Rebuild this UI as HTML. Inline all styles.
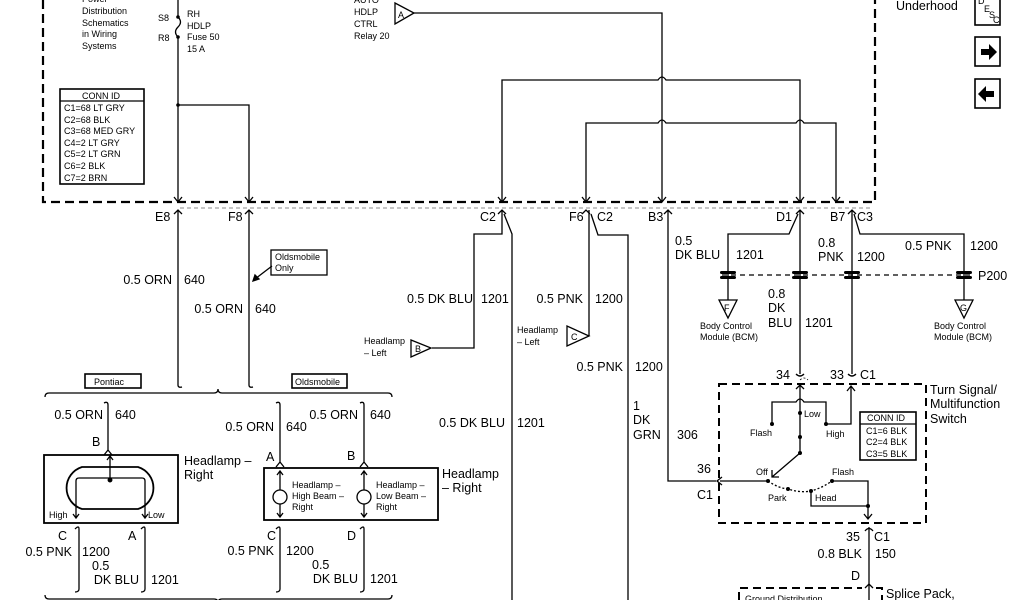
<!DOCTYPE html>
<html><head><meta charset="utf-8"><style>
html,body{margin:0;padding:0;background:#fff}
svg{display:block}
text{font-family:"Liberation Sans",Arial,sans-serif;fill:#000}
.m{font-size:12.5px}
.s{font-size:9px}
.r{text-anchor:end}
</style></head><body>
<svg width="1024" height="600" viewBox="0 0 1024 600" xmlns="http://www.w3.org/2000/svg">
<g fill="none" stroke="#000" stroke-width="1.3">
<!-- outer dashed box -->
<path d="M43 0 V202 H875 V0" stroke-width="2.2" stroke-dasharray="9,5"/>
<path d="M180 208 H870" stroke-width="0.8" stroke-dasharray="4,3" stroke="#666"/>
<!-- fuse line -->
<path d="M178 0 V17 M178 37 V202"/>
<path d="M178 17 q5 5 0 10 q-5 5 0 10"/>
<path d="M178 105 H249 V202"/>
<!-- arrowheads on box bottom -->
<path d="M174 197 l4 5 4-5 M245 197 l4 5 4-5 M498 197 l4 5 4-5 M582 197 l4 5 4-5 M658 197 l4 5 4-5 M796 197 l4 5 4-5 M832 197 l4 5 4-5"/>
<!-- relay A -->
<path d="M395 3 V24 L414 13 Z"/>
<path d="M414 13 H662 V202"/>
<path d="M502 202 V80 H658 q4 -6 8 0 H800 V202"/>
<path d="M586 202 V123 H658 q4 -6 8 0 H796 q4 -6 8 0 H836 V202"/>
<!-- CONN ID box -->
<rect x="60" y="89" width="84" height="95" stroke-width="1.6"/>
<path d="M60 101 H144"/>
<!-- E8/F8 wires -->
<path d="M174 214 l4 -4 4 4 M245 214 l4 -4 4 4"/>
<path d="M178 210 V385 q0 3 4 2 M249 210 V385 q0 3 4 2"/>
<rect x="271" y="250" width="56" height="25"/>
<path d="M272 266 L255 279"/>
<path d="M253 281 l2 -6 4 4 z" fill="#000"/>
<rect x="85" y="374" width="56" height="14" stroke-width="1.6"/>
<rect x="292" y="374" width="55" height="14" stroke-width="1.6"/>
<path d="M45 397 q0 -4 4 -4 H214 q4 0 4 -4 q0 4 4 4 H388 q4 0 4 4"/>
<path d="M45 595 q0 4 4 4 H214 q4 0 4 4 q0 -4 4 -4 H388 q4 0 4 -4"/>
<!-- Pontiac headlamp -->
<path d="M104 403 q4 -2 4 2 V450 M104 455 l4 -5 4 5"/>
<rect x="44" y="455" width="134" height="68" stroke-width="1.8"/>
<path d="M82 467 H138 A22 22 0 0 1 138 509 H82 A22 22 0 0 1 82 467 Z" stroke-width="1.8"/>
<path d="M76 492 V481 q0 -3 3 -3 H142 q3 0 3 3 V492" />
<path d="M110 480 V457 M107 460 l3 -4 3 4"/>
<circle cx="110" cy="480" r="1.8" fill="#000"/>
<path d="M76 492 V518 M73 514 l3 4 3 -4 M145 492 V518 M142 514 l3 4 3 -4"/>
<path d="M75 529 q4 -4 4 0 V589 q0 3 -4 3 M141 529 q4 -4 4 0 V589 q0 3 -4 3"/>
<!-- Olds headlamp -->
<path d="M276 403 q4 -2 4 2 V462 M276 467 l4 -5 4 5 M360 403 q4 -2 4 2 V462 M360 467 l4 -5 4 5"/>
<rect x="264" y="468" width="174" height="52" stroke-width="1.8"/>
<path d="M280 471 V490 M277 475 l3 -4 3 4 M280 504 V517 M277 513 l3 4 3 -4"/>
<path d="M364 471 V490 M361 475 l3 -4 3 4 M364 504 V517 M361 513 l3 4 3 -4"/>
<circle cx="280" cy="497" r="7"/><circle cx="364" cy="497" r="7"/>
<path d="M276 529 q4 -4 4 0 V589 q0 3 -4 3 M360 529 q4 -4 4 0 V589 q0 3 -4 3"/>
<!-- middle C2 -->
<path d="M498 214 l4 -4 4 4 M582 214 l4 -4 4 4"/>
<path d="M502 210 V234 H474 V348 H432"/>
<path d="M411 340 V357 L431 348 Z"/>
<path d="M504 214 L512 234 V600"/>
<path d="M589 210 V336"/>
<path d="M567 326 V346 L589 336 Z"/>
<path d="M591 214 L598 235 H628 V600"/>
<!-- B3 -->
<path d="M664 214 l4 -4 4 4 M668 210 V481 H716 M722 477 l-5 4 5 4"/>
<!-- D1 -->
<path d="M796 214 l4 -4 4 4 M800 210 V374"/>
<path d="M798 214 L789 234 H728 V300"/>
<path d="M719 300 H737 L728 318 Z"/>
<!-- B7 C3 -->
<path d="M848 214 l4 -4 4 4 M852 210 V374"/>
<path d="M854 214 L860 234 H964 V300"/>
<path d="M955 300 H973 L964 318 Z"/>
<!-- P200 -->
<path d="M722 275 H970" stroke-dasharray="5,4"/>
</g>
<g fill="#000">
<rect x="720" y="271" width="16" height="3" rx="1.5"/><rect x="720" y="276" width="16" height="3" rx="1.5"/>
<rect x="792" y="271" width="16" height="3" rx="1.5"/><rect x="792" y="276" width="16" height="3" rx="1.5"/>
<rect x="844" y="271" width="16" height="3" rx="1.5"/><rect x="844" y="276" width="16" height="3" rx="1.5"/>
<rect x="956" y="271" width="16" height="3" rx="1.5"/><rect x="956" y="276" width="16" height="3" rx="1.5"/>
<circle cx="178" cy="17" r="1.8"/><circle cx="178" cy="37" r="1.8"/><circle cx="178" cy="105" r="1.8"/>
</g>
<!-- switch -->
<g fill="none" stroke="#000" stroke-width="1.3">
<path d="M796 374 q4 4 8 0 M848 374 q4 4 8 0"/>
<path d="M800 380 q4 -4 8 0" stroke-dasharray="2,2" stroke-width="0.8"/>
<rect x="719" y="384" width="207" height="139" stroke-width="2" stroke-dasharray="8,5"/>
<path d="M800 384 V453 M796 389 l4 -4 4 4"/>
<path d="M772 424 V402 H796 q4 -6 8 0 H826 V424 H851 V387 M847 391 l4 -5 4 5"/>
<path d="M800 453 L772 477 M772 470 v7 h7"/>
<path d="M768 481 H720"/>
<path d="M768 481 Q778 488 788 489 Q800 493 811 491 Q822 488 832 481" stroke-dasharray="2,2"/>
<path d="M832 481 H868 V518 M811 491 V506 H868 M864 514 l4 5 4 -5"/>
<path d="M865 531 q4 -5 8 0 M869 527 V600"/>
<path d="M865 588 l4 -4 4 4"/>
<path d="M739 600 V588 H862 M876 588 h6 V600" stroke-width="2" stroke-dasharray="8,5"/>
<rect x="860" y="412" width="56" height="48" stroke-width="1.6"/>
<path d="M860 424 H916"/>
</g>
<g fill="#000">
<circle cx="772" cy="424" r="2"/><circle cx="826" cy="424" r="2"/><circle cx="800" cy="413" r="2"/><circle cx="800" cy="437" r="2"/><circle cx="800" cy="453" r="2"/>
<circle cx="768" cy="481" r="2"/><circle cx="788" cy="489" r="2"/><circle cx="811" cy="491" r="2"/><circle cx="832" cy="481" r="2"/><circle cx="868" cy="506" r="2"/>
</g>
<!-- icons -->
<g fill="none" stroke="#000" stroke-width="1.6">
<rect x="975" y="-4" width="25" height="29"/>
<rect x="975" y="37" width="25" height="29"/>
<rect x="975" y="79" width="25" height="29"/>
</g>
<path d="M981 49 h8 v-5 l8 8 -8 8 v-5 h-8 z" fill="#000"/>
<path d="M994 91 h-8 v-5 l-8 8 8 8 v-5 h8 z" fill="#000"/>
<text x="978" y="4" class="s">D</text><text x="984" y="12" class="s">E</text><text x="989" y="18" class="s">S</text><text x="993" y="23" class="s">C</text>
<!-- texts -->
<g class="s">
<text x="82" y="2">Power</text><text x="82" y="14">Distribution</text><text x="82" y="26">Schematics</text><text x="82" y="37">in Wiring</text><text x="82" y="49">Systems</text>
<text x="158" y="21">S8</text><text x="158" y="41">R8</text>
<text x="187" y="17">RH</text><text x="187" y="29">HDLP</text><text x="187" y="40">Fuse 50</text><text x="187" y="52">15 A</text>
<text x="354" y="3">AUTO</text><text x="354" y="15">HDLP</text><text x="354" y="27">CTRL</text><text x="354" y="39">Relay 20</text>
<text x="398" y="18">A</text>
<text x="82" y="99">CONN ID</text>
<text x="64" y="111">C1=68 LT GRY</text><text x="64" y="123">C2=68 BLK</text><text x="64" y="134">C3=68 MED GRY</text><text x="64" y="146">C4=2 LT GRY</text><text x="64" y="157">C5=2 LT GRN</text><text x="64" y="169">C6=2 BLK</text><text x="64" y="181">C7=2 BRN</text>
<text x="275" y="260">Oldsmobile</text><text x="275" y="271">Only</text>
<text x="94" y="385">Pontiac</text><text x="295" y="385">Oldsmobile</text>
<text x="49" y="518">High</text><text x="148" y="518">Low</text>
<text x="292" y="488">Headlamp –</text><text x="292" y="499">High Beam –</text><text x="292" y="510">Right</text>
<text x="376" y="488">Headlamp –</text><text x="376" y="499">Low Beam –</text><text x="376" y="510">Right</text>
<text x="364" y="344">Headlamp</text><text x="364" y="356">– Left</text><text x="415" y="352">B</text>
<text x="517" y="333">Headlamp</text><text x="517" y="345">– Left</text><text x="571" y="340">C</text>
<text x="700" y="329">Body Control</text><text x="700" y="340">Module (BCM)</text><text x="724" y="311">F</text>
<text x="934" y="329">Body Control</text><text x="934" y="340">Module (BCM)</text><text x="960" y="311">G</text>
<text x="750" y="436">Flash</text><text x="804" y="417">Low</text><text x="826" y="437">High</text>
<text x="756" y="475">Off</text><text x="832" y="475">Flash</text><text x="768" y="501">Park</text><text x="815" y="501">Head</text>
<text x="867" y="421">CONN ID</text><text x="866" y="434">C1=6 BLK</text><text x="866" y="445">C2=4 BLK</text><text x="866" y="457">C3=5 BLK</text>
<text x="745" y="602">Ground Distribution</text>
</g>
<g class="m">
<text x="896" y="10">Underhood</text>
<text x="155" y="221">E8</text><text x="228" y="221">F8</text>
<text x="480" y="221">C2</text><text x="569" y="221">F6</text><text x="597" y="221">C2</text><text x="648" y="221">B3</text>
<text x="776" y="221">D1</text><text x="830" y="221">B7</text><text x="857" y="221">C3</text>
<text x="172" y="284" class="r">0.5 ORN</text><text x="184" y="284">640</text>
<text x="243" y="313" class="r">0.5 ORN</text><text x="255" y="313">640</text>
<text x="103" y="419" class="r">0.5 ORN</text><text x="115" y="419">640</text>
<text x="92" y="446">B</text>
<text x="184" y="465">Headlamp –</text><text x="184" y="479">Right</text>
<text x="274" y="431" class="r">0.5 ORN</text><text x="286" y="431">640</text>
<text x="358" y="419" class="r">0.5 ORN</text><text x="370" y="419">640</text>
<text x="266" y="461">A</text><text x="347" y="460">B</text>
<text x="442" y="478">Headlamp</text><text x="442" y="492">– Right</text>
<text x="58" y="540">C</text><text x="128" y="540">A</text>
<text x="72" y="556" class="r">0.5 PNK</text><text x="82" y="556">1200</text>
<text x="92" y="570">0.5</text><text x="139" y="584" class="r">DK BLU</text><text x="151" y="584">1201</text>
<text x="267" y="540">C</text><text x="347" y="540">D</text>
<text x="274" y="555" class="r">0.5 PNK</text><text x="286" y="555">1200</text>
<text x="312" y="569">0.5</text><text x="358" y="583" class="r">DK BLU</text><text x="370" y="583">1201</text>
<text x="473" y="303" class="r">0.5 DK BLU</text><text x="481" y="303">1201</text>
<text x="583" y="303" class="r">0.5 PNK</text><text x="595" y="303">1200</text>
<text x="623" y="371" class="r">0.5 PNK</text><text x="635" y="371">1200</text>
<text x="505" y="427" class="r">0.5 DK BLU</text><text x="517" y="427">1201</text>
<text x="633" y="410">1</text><text x="633" y="424">DK</text><text x="633" y="439">GRN</text><text x="677" y="439">306</text>
<text x="675" y="245">0.5</text><text x="675" y="259">DK BLU</text><text x="736" y="259">1201</text>
<text x="818" y="247">0.8</text><text x="818" y="261">PNK</text><text x="857" y="261">1200</text>
<text x="905" y="250">0.5 PNK</text><text x="970" y="250">1200</text>
<text x="978" y="280">P200</text>
<text x="768" y="298">0.8</text><text x="768" y="312">DK</text><text x="768" y="327">BLU</text><text x="805" y="327">1201</text>
<text x="776" y="379">34</text><text x="830" y="379">33</text><text x="860" y="379">C1</text>
<text x="930" y="394">Turn Signal/</text><text x="930" y="408">Multifunction</text><text x="930" y="423">Switch</text>
<text x="697" y="473">36</text><text x="697" y="499">C1</text>
<text x="846" y="541">35</text><text x="874" y="541">C1</text>
<text x="862" y="558" class="r">0.8 BLK</text><text x="875" y="558">150</text>
<text x="851" y="580">D</text>
<text x="886" y="598">Splice Pack,</text>
</g>
</svg>
</body></html>
